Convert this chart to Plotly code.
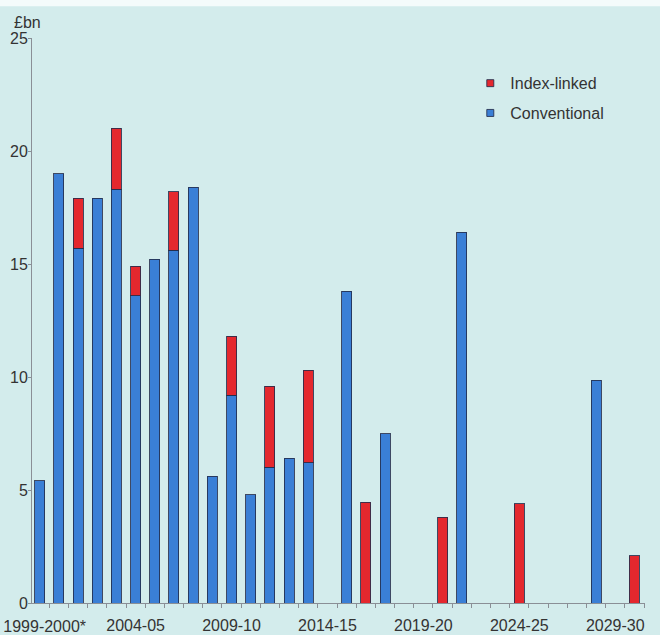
import plotly.graph_objects as go

# Financial years on the x axis, one bar slot per year
years = [
    "1999-2000*", "2000-01", "2001-02", "2002-03", "2003-04", "2004-05",
    "2005-06", "2006-07", "2007-08", "2008-09", "2009-10", "2010-11",
    "2011-12", "2012-13", "2013-14", "2014-15", "2015-16", "2016-17",
    "2017-18", "2018-19", "2019-20", "2020-21", "2021-22", "2022-23",
    "2023-24", "2024-25", "2025-26", "2026-27", "2027-28", "2028-29",
    "2029-30", "2030-31",
]

# Redemptions, £bn (None = no redemption that year)
conventional = [
    5.4, 19.0, 15.7, 17.9, 18.3, 13.6, 15.2, 15.6, 18.4, 5.6, 9.2, 4.8,
    6.0, 6.4, 6.2, None, 13.8, None, 7.5, None, None, None, 16.4, None,
    None, None, None, None, None, 9.85, None, None,
]
index_linked = [
    None, None, 2.2, None, 2.7, 1.3, None, 2.6, None, None, 2.6, None,
    3.6, None, 4.1, None, None, 4.45, None, None, None, 3.8, None, None,
    None, 4.4, None, None, None, None, None, 2.1,
]

# Labelled years and y-axis ticks
labelled_years = ["1999-2000*", "2004-05", "2009-10", "2014-15",
                  "2019-20", "2024-25", "2029-30"]
y_ticks = [0, 5, 10, 15, 20, 25]

BLUE = "#3a7fd6"
RED = "#e4282e"
EDGE = "rgba(35,45,75,0.85)"
BG = "#d3ecec"
TEXT = "#333333"
AXIS = "#8a8f96"
FONT = "Liberation Sans, Arial, sans-serif"
X_RANGE = [-0.4, 31.55]

x = list(range(len(years)))

fig = go.Figure()
fig.add_trace(go.Bar(
    x=x, y=conventional, name="Conventional", showlegend=False,
    marker=dict(color=BLUE, line=dict(color=EDGE, width=1)),
))
fig.add_trace(go.Bar(
    x=x, y=index_linked, name="Index-linked", showlegend=False,
    marker=dict(color=RED, line=dict(color=EDGE, width=1)),
))
# empty trace that carries the overlay axis used for the first year label
fig.add_trace(go.Scatter(x=[None], y=[None], xaxis="x2", showlegend=False,
                         hoverinfo="skip"))

# Small square legend keys
for name, color in [("Index-linked", RED), ("Conventional", BLUE)]:
    fig.add_trace(go.Scatter(
        x=[None], y=[None], mode="markers", name=name, legendgroup=name,
        marker=dict(symbol="square", size=7, color=color,
                    line=dict(color=EDGE, width=1)),
    ))

tick_idx = [years.index(t) for t in labelled_years]

fig.update_layout(
    width=660, height=635,
    margin=dict(l=32, r=15, t=38, b=32),
    paper_bgcolor=BG, plot_bgcolor=BG,
    barmode="stack", bargap=0.48,
    font=dict(family=FONT, size=16, color=TEXT),
    showlegend=True,
    legend=dict(
        x=0.715, y=0.95, xanchor="left", yanchor="top",
        bgcolor="rgba(0,0,0,0)", traceorder="grouped", tracegroupgap=6,
        itemwidth=30, font=dict(size=16, color=TEXT),
    ),
    xaxis=dict(
        range=X_RANGE, showgrid=False, zeroline=False,
        automargin=False, ticklabeloverflow="allow",
        showline=True, linecolor=AXIS, linewidth=1,
        tickmode="array", tickvals=tick_idx[1:], ticktext=labelled_years[1:],
        ticks="", ticklen=0, ticklabelstandoff=8,
        minor=dict(tickmode="array",
                   tickvals=[i + 0.5 for i in range(-1, len(years))],
                   ticks="outside", ticklen=4, tickcolor=AXIS),
        tickfont=dict(size=16, color=TEXT),
    ),
    # first year label, nudged right so it clears the left edge
    xaxis2=dict(
        overlaying="x", matches="x", anchor="y", side="bottom",
        range=X_RANGE, showgrid=False, zeroline=False, showline=False,
        automargin=False, ticklabeloverflow="allow",
        tickmode="array", tickvals=tick_idx[:1], ticktext=labelled_years[:1],
        ticks="", ticklen=0, ticklabelstandoff=12, ticklabelshift=5,
        tickfont=dict(size=16, color=TEXT),
    ),
    yaxis=dict(
        range=[0, 25], showgrid=False, zeroline=False,
        automargin=False, ticklabeloverflow="allow",
        showline=True, linecolor=AXIS, linewidth=1,
        tickmode="array", tickvals=y_ticks,
        ticks="outside", ticklen=3, tickcolor=AXIS,
        ticklabelstandoff=-3,
        tickfont=dict(size=16, color=TEXT),
    ),
    annotations=[dict(
        text="£bn", xref="paper", yref="paper", x=-0.032, y=1.008,
        xanchor="left", yanchor="bottom", showarrow=False,
        font=dict(size=16, color=TEXT),
    )],
    shapes=[dict(
        type="rect", xref="paper", yref="paper",
        x0=-0.06, x1=1.03, y0=1.056, y1=1.07,
        fillcolor="#f4fbfb", line=dict(width=0), layer="below",
    )],
)

fig.write_html("out.html")
